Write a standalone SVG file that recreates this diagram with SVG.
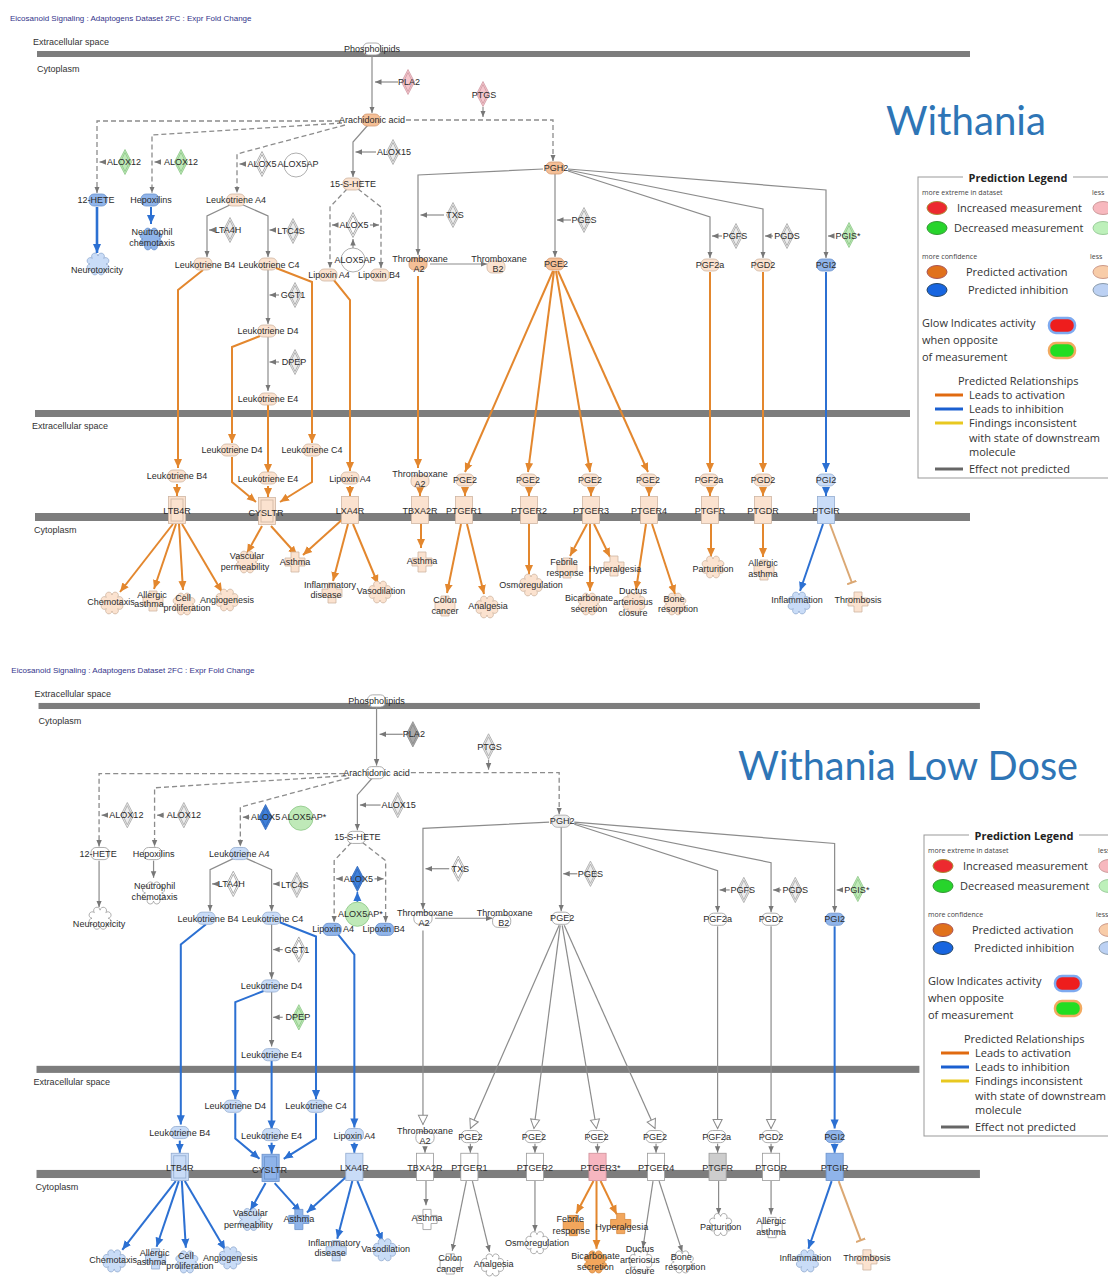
<svg xmlns="http://www.w3.org/2000/svg" width="1108" height="1288" viewBox="0 0 1108 1288">
<style>
text{font-family:"Liberation Sans",Arial,sans-serif}
.hd{font-size:8px;fill:#34348a}
.cmp{font-size:9px;fill:#333}
.mem{fill:#7d7d7d}
.t{font-size:9px;fill:#2b2b2b;text-anchor:middle}
.big{font-family:Lato,"Open Sans",sans-serif;font-size:40px;fill:#2e75b6}
.lg{font-family:"Open Sans","Liberation Sans",sans-serif;font-size:11px;fill:#333}
.lgb{font-family:"Open Sans","Liberation Sans",sans-serif;font-size:11px;font-weight:bold;fill:#222;text-anchor:middle}
.lgs{font-family:"Open Sans","Liberation Sans",sans-serif;font-size:7px;fill:#444}
.w{fill:#fff;stroke:#9a9a9a;stroke-width:.8}
.gy{fill:#ececec;stroke:#a5a5a5;stroke-width:.8}
.gy2{fill:#a9a9a9;stroke:#8a8a8a;stroke-width:.8}
.gr{fill:#cdcdcd;stroke:#999;stroke-width:.8}
.lo{fill:#fbe2cf;stroke:#cfb6a2;stroke-width:.8}
.o{fill:#f5bf96;stroke:#d49c74;stroke-width:.8}
.or{fill:#f2a65c;stroke:#d8893c;stroke-width:.8}
.lb{fill:#c9dcf7;stroke:#93acd0;stroke-width:.8}
.b{fill:#8fb4ea;stroke:#6b92cc;stroke-width:.8}
.db{fill:#3f80da;stroke:#2f66b8;stroke-width:.8}
.pk{fill:#f5c6cd;stroke:#cf9aa3;stroke-width:.8}
.rd{fill:#f6b6c0;stroke:#d0909a;stroke-width:.8}
.g{fill:#bfe9b8;stroke:#8cc786;stroke-width:.8}
.eg{fill:none;stroke:#8c8c8c;stroke-width:1.2;marker-end:url(#mg)}
.ed{fill:none;stroke:#8c8c8c;stroke-width:1.3;stroke-dasharray:5 3;marker-end:url(#mg)}
.eo{fill:none;stroke:#e3872e;stroke-width:2;marker-end:url(#mo)}
.eb{fill:none;stroke:#2c70d2;stroke-width:2;marker-end:url(#mb)}
.eh{fill:none;stroke:#8c8c8c;stroke-width:1.2;marker-end:url(#mh)}
.et{fill:none;stroke:#dba874;stroke-width:2;marker-end:url(#mt)}
</style>
<defs>
<marker id="mg" markerUnits="userSpaceOnUse" markerWidth="8" markerHeight="8" refX="6.5" refY="3.5" orient="auto"><path d="M0,0.8L6.5,3.5L0,6.2Z" fill="#777"/></marker>
<marker id="mo" markerUnits="userSpaceOnUse" markerWidth="10" markerHeight="10" refX="9" refY="5" orient="auto"><path d="M0,1L9,5L0,9Z" fill="#e3872e"/></marker>
<marker id="mb" markerUnits="userSpaceOnUse" markerWidth="10" markerHeight="10" refX="9" refY="5" orient="auto"><path d="M0,1L9,5L0,9Z" fill="#2c70d2"/></marker>
<marker id="mh" markerUnits="userSpaceOnUse" markerWidth="12" markerHeight="12" refX="10" refY="6" orient="auto"><path d="M1,1.5L10,6L1,10.5Z" fill="#fff" stroke="#8c8c8c"/></marker>
<marker id="mt" markerUnits="userSpaceOnUse" markerWidth="10" markerHeight="10" refX="2" refY="5" orient="auto"><path d="M1.5,0V10" stroke="#dba874" stroke-width="2"/></marker>
<rect id="chem" x="-9" y="-6" width="18" height="12" rx="5"/>
<g id="dia"><path d="M0,-12.5L6.5,0L0,12.5L-6.5,0Z"/><path d="M0,-9.5L4.6,0L0,9.5L-4.6,0Z" fill="none"/></g>
<rect id="rec" x="-8.5" y="-13.5" width="17" height="27"/>
<g id="rec2"><rect x="-8.5" y="-13.5" width="17" height="27"/><rect x="-6" y="-11" width="12" height="22" fill="none"/></g>
<circle id="circ" r="12"/>
<path id="gear" d="M8,0A3.2,3.2 0 1 1 5.66,5.66A3.2,3.2 0 1 1 0,8A3.2,3.2 0 1 1 -5.66,5.66A3.2,3.2 0 1 1 -8,0A3.2,3.2 0 1 1 -5.66,-5.66A3.2,3.2 0 1 1 0,-8A3.2,3.2 0 1 1 5.66,-5.66A3.2,3.2 0 1 1 8,0Z"/>
<path id="cross" d="M-4,-10H4V-4H10V4H4V10H-4V4H-10V-4H-4Z"/>
</defs>
<rect width="1108" height="1288" fill="#fff"/>

<!-- ================= upper pathway ================= -->
<g id="top-panel">
<text class="hd" x="10" y="21">Eicosanoid Signaling : Adaptogens Dataset 2FC : Expr Fold Change</text>
<text class="cmp" x="33" y="45">Extracellular space</text>
<rect class="mem" x="37" y="51" width="933" height="6"/>
<text class="cmp" x="37" y="72">Cytoplasm</text>
<rect class="mem" x="35" y="410" width="875" height="7"/>
<text class="cmp" x="32" y="429">Extracellular space</text>
<rect class="mem" x="35" y="513" width="935" height="8"/>
<text class="cmp" x="34" y="533">Cytoplasm</text>

<g id="a-edges">
<path class="eg" d="M372,55V113"/>
<path class="eg" d="M398,82H375"/>
<path class="eg" d="M483,107V117"/>
<path class="eg" d="M105,162H99.5"/>
<path class="eg" d="M161,162H154.5"/>
<path class="eg" d="M246,164H239.5"/>
<path class="eg" d="M368,125L353,142V177"/>
<path class="eg" d="M376,152H355.5"/>
<path class="eg" d="M338,225H332"/>
<path class="eg" d="M370,225H379"/>
<path class="eg" d="M353,248V239"/>
<path class="eg" d="M232,204L207,216V257"/>
<path class="eg" d="M241,204L268,216V257"/>
<path class="eg" d="M213,230H209"/>
<path class="eg" d="M274,230H269.5"/>
<path class="eg" d="M268,270V324"/>
<path class="eg" d="M268,337V391"/>
<path class="eg" d="M279,295H269.5"/>
<path class="eg" d="M279,362H269.5"/>
<path class="eg" d="M543,169L418,175V255"/>
<path class="eg" d="M444,215H420.5"/>
<path class="eg" d="M430,264H487"/>
<path class="eg" d="M555,173V257"/>
<path class="eg" d="M571,220H557"/>
<path class="eg" d="M568,171L710,217V258"/>
<path class="eg" d="M568,170L763,209V258"/>
<path class="eg" d="M568,169L826,190V258"/>
<path class="eg" d="M722,236H712"/>
<path class="eg" d="M773,236H765"/>
<path class="eg" d="M834,236H828"/>
<path class="ed" d="M406,120H553V161"/>
<path class="ed" d="M340,121H97V193"/>
<path class="ed" d="M342,123L152,135V193"/>
<path class="ed" d="M345,125L237,154V193"/>
<path class="ed" d="M347,189L330,207V268"/>
<path class="ed" d="M358,189L381,207V268"/>
<path class="eb" style="stroke-width:2.6" d="M97,207V253"/>
<path class="eb" d="M151,207V224"/>
<path class="eo" d="M203,270L178,290V468"/>
<path class="eo" d="M276,268L312,282V443"/>
<path class="eo" d="M260,336L232,347V443"/>
<path class="eo" d="M268,405V473"/>
<path class="eo" d="M333,279L350,300V471"/>
<path class="eo" d="M418,276V468"/>
<path class="eo" d="M553,271L465,472"/>
<path class="eo" d="M554,271L528,472"/>
<path class="eo" d="M556,271L590,472"/>
<path class="eo" d="M558,271L648,472"/>
<path class="eo" d="M710,272V472"/>
<path class="eo" d="M763,272V472"/>
<path class="eb" d="M826,272V472"/>
<path class="eo" d="M177,484V496"/>
<path class="eo" d="M232,457V482L256,502"/>
<path class="eo" d="M268,486V497"/>
<path class="eo" d="M312,457V482L280,502"/>
<path class="eo" d="M350,486V496"/>
<path class="eo" d="M420,490V496"/>
<path class="eo" d="M465,487V496"/>
<path class="eo" d="M529,487V496"/>
<path class="eo" d="M591,487V496"/>
<path class="eo" d="M649,487V496"/>
<path class="eo" d="M710,487V496"/>
<path class="eo" d="M763,487V496"/>
<path class="eb" d="M826,487V496"/>
<path class="eo" d="M173,524L120,592"/>
<path class="eo" d="M176,524L154,589"/>
<path class="eo" d="M179,524L183,590"/>
<path class="eo" d="M182,524L222,592"/>
<path class="eo" d="M262,526L247,553"/>
<path class="eo" d="M271,526L297,555"/>
<path class="eo" d="M344,518L303,555"/>
<path class="eo" d="M348,524L333,581"/>
<path class="eo" d="M353,524L378,584"/>
<path class="eo" d="M421,524V548"/>
<path class="eo" d="M461,524L447,593"/>
<path class="eo" d="M467,524L484,594"/>
<path class="eo" d="M529,524V574"/>
<path class="eo" d="M587,524L570,556"/>
<path class="eo" d="M590,524V591"/>
<path class="eo" d="M594,524L610,557"/>
<path class="eo" d="M646,524L636,590"/>
<path class="eo" d="M652,524L675,594"/>
<path class="eo" d="M711,524V557"/>
<path class="eo" d="M763,524V557"/>
<path class="eb" d="M823,524L800,591"/>
<path class="et" d="M830,524L852,583"/>
</g>

<g id="a-phospholipids"><use href="#chem" x="372" y="49" class="w"/><text class="t" x="372" y="52">Phospholipids</text></g>
<g id="a-pla2"><use href="#dia" x="408" y="82" class="pk"/><text class="t" x="409" y="85">PLA2</text></g>
<g id="a-ptgs"><use href="#dia" x="483" y="94" class="pk"/><text class="t" x="484" y="98">PTGS</text></g>
<g id="a-arachidonic"><use href="#chem" x="371" y="120" class="o"/><text class="t" x="372" y="123">Arachidonic acid</text></g>
<g id="a-alox12-1"><use href="#dia" x="125" y="162" class="g"/><text class="t" x="124" y="165">ALOX12</text></g>
<g id="a-alox12-2"><use href="#dia" x="181" y="162" class="g"/><text class="t" x="181" y="165">ALOX12</text></g>
<g id="a-alox5-1"><use href="#dia" x="262" y="164" class="w"/><text class="t" x="262" y="167">ALOX5</text></g>
<g id="a-alox5ap-1"><use href="#circ" x="296" y="165" class="w"/><text class="t" x="298" y="167">ALOX5AP</text></g>
<g id="a-alox15"><use href="#dia" x="393" y="152" class="gy"/><text class="t" x="394" y="155">ALOX15</text></g>
<g id="a-12hete"><use href="#chem" x="98" y="200" class="b"/><text class="t" x="96" y="203">12-HETE</text></g>
<g id="a-hepoxilins"><use href="#chem" x="150" y="200" class="b"/><text class="t" x="151" y="203">Hepoxilins</text></g>
<g id="a-neurotoxicity"><use href="#gear" x="98" y="264" class="lb"/><text class="t" x="97" y="273">Neurotoxicity</text></g>
<g id="a-neutrophil"><use href="#gear" x="151" y="239" class="b"/><text class="t" x="152" y="235">Neutrophil<tspan x="152" dy="11">chemotaxis</tspan></text></g>
<g id="a-lta4"><use href="#chem" x="236" y="200" class="lo"/><text class="t" x="236" y="203">Leukotriene A4</text></g>
<g id="a-lta4h"><use href="#dia" x="230" y="230" class="gy"/><text class="t" x="228" y="233">LTA4H</text></g>
<g id="a-ltc4s"><use href="#dia" x="293" y="231" class="gy"/><text class="t" x="291" y="234">LTC4S</text></g>
<g id="a-ltb4"><use href="#chem" x="203" y="264" class="lo"/><text class="t" x="205" y="268">Leukotriene B4</text></g>
<g id="a-ltc4"><use href="#chem" x="268" y="264" class="lo"/><text class="t" x="269" y="268">Leukotriene C4</text></g>
<g id="a-ggt1"><use href="#dia" x="295" y="295" class="gy"/><text class="t" x="293" y="298">GGT1</text></g>
<g id="a-ltd4"><use href="#chem" x="267" y="331" class="lo"/><text class="t" x="268" y="334">Leukotriene D4</text></g>
<g id="a-dpep"><use href="#dia" x="295" y="362" class="gy"/><text class="t" x="294" y="365">DPEP</text></g>
<g id="a-lte4"><use href="#chem" x="268" y="399" class="lo"/><text class="t" x="268" y="402">Leukotriene E4</text></g>
<g id="a-15shete"><use href="#chem" x="352" y="184" class="lo"/><text class="t" x="353" y="187">15-S-HETE</text></g>
<g id="a-alox5-2"><use href="#dia" x="353" y="225" class="w"/><text class="t" x="354" y="228">ALOX5</text></g>
<g id="a-alox5ap-2"><use href="#circ" x="353" y="260" class="w"/><text class="t" x="355" y="263">ALOX5AP</text></g>
<g id="a-lxa4"><use href="#chem" x="328" y="275" class="lo"/><text class="t" x="329" y="278">Lipoxin A4</text></g>
<g id="a-lxb4"><use href="#chem" x="380" y="275" class="lo"/><text class="t" x="379" y="278">Lipoxin B4</text></g>
<g id="a-pgh2"><use href="#chem" x="555" y="168" class="o"/><text class="t" x="556" y="171">PGH2</text></g>
<g id="a-txa2"><use href="#chem" x="418" y="264" class="o"/><text class="t" x="420" y="262">Thromboxane<tspan x="419" dy="10">A2</tspan></text></g>
<g id="a-txb2"><use href="#chem" x="496" y="267" class="lo"/><text class="t" x="499" y="262">Thromboxane<tspan x="498" dy="10">B2</tspan></text></g>
<g id="a-txs"><use href="#dia" x="453" y="215" class="gy"/><text class="t" x="455" y="218">TXS</text></g>
<g id="a-pges"><use href="#dia" x="584" y="220" class="gy"/><text class="t" x="584" y="223">PGES</text></g>
<g id="a-pge2"><use href="#chem" x="555" y="264" class="o"/><text class="t" x="556" y="267">PGE2</text></g>
<g id="a-pgfs"><use href="#dia" x="736" y="236" class="gy"/><text class="t" x="735" y="239">PGFS</text></g>
<g id="a-pgds"><use href="#dia" x="787" y="236" class="gy"/><text class="t" x="787" y="239">PGDS</text></g>
<g id="a-pgis"><use href="#dia" x="849" y="235" class="g"/><text class="t" x="848" y="239">PGIS*</text></g>
<g id="a-pgf2a"><use href="#chem" x="710" y="265" class="lo"/><text class="t" x="710" y="268">PGF2a</text></g>
<g id="a-pgd2"><use href="#chem" x="763" y="265" class="lo"/><text class="t" x="763" y="268">PGD2</text></g>
<g id="a-pgi2"><use href="#chem" x="826" y="265" class="b"/><text class="t" x="826" y="268">PGI2</text></g>

<g id="a-ltb4-ex"><use href="#chem" x="177" y="476" class="lo"/><text class="t" x="177" y="479">Leukotriene B4</text></g>
<g id="a-ltd4-ex"><use href="#chem" x="230" y="450" class="lo"/><text class="t" x="232" y="453">Leukotriene D4</text></g>
<g id="a-ltc4-ex"><use href="#chem" x="312" y="450" class="lo"/><text class="t" x="312" y="453">Leukotriene C4</text></g>
<g id="a-lte4-ex"><use href="#chem" x="268" y="478" class="lo"/><text class="t" x="268" y="482">Leukotriene E4</text></g>
<g id="a-lxa4-ex"><use href="#chem" x="350" y="478" class="lo"/><text class="t" x="350" y="482">Lipoxin A4</text></g>
<g id="a-txa2-ex"><use href="#chem" x="420" y="481" class="lo"/><text class="t" x="420" y="477">Thromboxane<tspan x="420" dy="10">A2</tspan></text></g>
<g id="a-pge2-ex1"><use href="#chem" x="465" y="480" class="lo"/><text class="t" x="465" y="483">PGE2</text></g>
<g id="a-pge2-ex2"><use href="#chem" x="528" y="480" class="lo"/><text class="t" x="528" y="483">PGE2</text></g>
<g id="a-pge2-ex3"><use href="#chem" x="590" y="480" class="lo"/><text class="t" x="590" y="483">PGE2</text></g>
<g id="a-pge2-ex4"><use href="#chem" x="648" y="480" class="lo"/><text class="t" x="648" y="483">PGE2</text></g>
<g id="a-pgf2a-ex"><use href="#chem" x="709" y="480" class="lo"/><text class="t" x="709" y="483">PGF2a</text></g>
<g id="a-pgd2-ex"><use href="#chem" x="763" y="480" class="lo"/><text class="t" x="763" y="483">PGD2</text></g>
<g id="a-pgi2-ex"><use href="#chem" x="826" y="480" class="lb"/><text class="t" x="826" y="483">PGI2</text></g>

<g id="a-ltb4r"><use href="#rec2" x="177" y="510" class="lo"/><text class="t" x="177" y="514">LTB4R</text></g>
<g id="a-cysltr"><use href="#rec2" x="267" y="511" class="lo"/><text class="t" x="266" y="516">CYSLTR</text></g>
<g id="a-lxa4r"><use href="#rec" x="350" y="510" class="lo"/><text class="t" x="350" y="514">LXA4R</text></g>
<g id="a-tbxa2r"><use href="#rec" x="420" y="510" class="lo"/><text class="t" x="420" y="514">TBXA2R</text></g>
<g id="a-ptger1"><use href="#rec" x="464" y="510" class="lo"/><text class="t" x="464" y="514">PTGER1</text></g>
<g id="a-ptger2"><use href="#rec" x="529" y="510" class="lo"/><text class="t" x="529" y="514">PTGER2</text></g>
<g id="a-ptger3"><use href="#rec" x="591" y="510" class="lo"/><text class="t" x="591" y="514">PTGER3</text></g>
<g id="a-ptger4"><use href="#rec" x="649" y="510" class="lo"/><text class="t" x="649" y="514">PTGER4</text></g>
<g id="a-ptgfr"><use href="#rec" x="710" y="510" class="lo"/><text class="t" x="710" y="514">PTGFR</text></g>
<g id="a-ptgdr"><use href="#rec" x="763" y="510" class="lo"/><text class="t" x="763" y="514">PTGDR</text></g>
<g id="a-ptgir"><use href="#rec" x="826" y="510" class="lb"/><text class="t" x="826" y="514">PTGIR</text></g>

<g id="a-chemotaxis"><use href="#gear" x="112" y="603" class="lo"/><text class="t" x="111" y="605">Chemotaxis</text></g>
<g id="a-allergic-1"><use href="#cross" x="153" y="601" class="lo"/><text class="t" x="152" y="598">Allergic<tspan x="149" dy="9">asthma</tspan></text></g>
<g id="a-cellprolif"><use href="#gear" x="184" y="604" class="lo"/><text class="t" x="183" y="601">Cell<tspan x="187" dy="10">proliferation</tspan></text></g>
<g id="a-angiogenesis"><use href="#gear" x="227" y="600" class="lo"/><text class="t" x="227" y="603">Angiogenesis</text></g>
<g id="a-vascperm"><use href="#gear" x="247" y="562" class="lo"/><text class="t" x="247" y="559">Vascular<tspan x="245" dy="11">permeability</tspan></text></g>
<g id="a-asthma-1"><use href="#cross" x="295" y="562" class="lo"/><text class="t" x="295" y="565">Asthma</text></g>
<g id="a-inflamdis"><use href="#cross" x="332" y="593" class="lo"/><text class="t" x="330" y="588">Inflammatory<tspan x="326" dy="10">disease</tspan></text></g>
<g id="a-vasodilation"><use href="#gear" x="380" y="592" class="lo"/><text class="t" x="381" y="594">Vasodilation</text></g>
<g id="a-asthma-2"><use href="#cross" x="422" y="562" class="lo"/><text class="t" x="422" y="564">Asthma</text></g>
<g id="a-colon"><use href="#cross" x="445" y="606" class="lo"/><text class="t" x="445" y="603">Colon<tspan x="445" dy="11">cancer</tspan></text></g>
<g id="a-analgesia"><use href="#gear" x="487" y="607" class="lo"/><text class="t" x="488" y="609">Analgesia</text></g>
<g id="a-osmoreg"><use href="#gear" x="531" y="585" class="lo"/><text class="t" x="531" y="588">Osmoregulation</text></g>
<g id="a-febrile"><use href="#cross" x="567" y="568" class="lo"/><text class="t" x="564" y="565">Febrile<tspan x="565" dy="11">response</tspan></text></g>
<g id="a-bicarb"><use href="#gear" x="589" y="604" class="lo"/><text class="t" x="589" y="601">Bicarbonate<tspan x="589" dy="11">secretion</tspan></text></g>
<g id="a-hyperalgesia"><use href="#cross" x="614" y="566" class="lo"/><text class="t" x="615" y="572">Hyperalgesia</text></g>
<g id="a-ductus"><use href="#gear" x="634" y="603" class="lo"/><text class="t" x="633" y="594">Ductus<tspan x="633" dy="11">arteriosus</tspan><tspan x="633" dy="11">closure</tspan></text></g>
<g id="a-bone"><use href="#gear" x="675" y="604" class="lo"/><text class="t" x="674" y="602">Bone<tspan x="678" dy="10">resorption</tspan></text></g>
<g id="a-parturition"><use href="#gear" x="713" y="567" class="lo"/><text class="t" x="713" y="572">Parturition</text></g>
<g id="a-allergic-2"><use href="#cross" x="764" y="570" class="lo"/><text class="t" x="763" y="566">Allergic<tspan x="763" dy="11">asthma</tspan></text></g>
<g id="a-inflammation"><use href="#gear" x="799" y="603" class="lb"/><text class="t" x="797" y="603">Inflammation</text></g>
<g id="a-thrombosis"><use href="#cross" x="858" y="602" class="lo"/><text class="t" x="858" y="603">Thrombosis</text></g>
</g>

<!-- ================= lower pathway (low dose) ================= -->
<g id="low-panel" transform="translate(1.2 651.4) scale(1.009 1.0108)">
<text class="hd" x="10" y="21">Eicosanoid Signaling : Adaptogens Dataset 2FC : Expr Fold Change</text>
<text class="cmp" x="33" y="45">Extracellular space</text>
<rect class="mem" x="37" y="51" width="933" height="6"/>
<text class="cmp" x="37" y="72">Cytoplasm</text>
<rect class="mem" x="35" y="410" width="875" height="7"/>
<text class="cmp" x="32" y="429">Extracellular space</text>
<rect class="mem" x="35" y="513" width="935" height="8"/>
<text class="cmp" x="34" y="533">Cytoplasm</text>

<g id="b-edges">
<path class="eg" d="M372,55V113"/>
<path class="eg" d="M398,82H375"/>
<path class="eg" d="M483,107V117"/>
<path class="eg" d="M105,162H99.5"/>
<path class="eg" d="M161,162H154.5"/>
<path class="eg" d="M246,164H239.5"/>
<path class="eg" d="M368,125L353,142V177"/>
<path class="eg" d="M376,152H355.5"/>
<path class="eg" d="M338,225H332"/>
<path class="eg" d="M370,225H379"/>
<path class="eb" style="stroke-width:1.6" d="M353,248V238"/>
<path class="eg" d="M232,204L207,216V257"/>
<path class="eg" d="M241,204L268,216V257"/>
<path class="eg" d="M213,230H209"/>
<path class="eg" d="M274,230H269.5"/>
<path class="eg" d="M268,270V324"/>
<path class="eg" d="M268,337V391"/>
<path class="eg" d="M279,295H269.5"/>
<path class="eg" d="M279,362H269.5"/>
<path class="eg" d="M543,169L418,175V255"/>
<path class="eg" d="M444,215H420.5"/>
<path class="eg" d="M430,264H487"/>
<path class="eg" d="M555,173V257"/>
<path class="eg" d="M571,220H557"/>
<path class="eg" d="M568,171L710,217V258"/>
<path class="eg" d="M568,170L763,209V258"/>
<path class="eg" d="M568,169L826,190V258"/>
<path class="eg" d="M722,236H712"/>
<path class="eg" d="M773,236H765"/>
<path class="eg" d="M834,236H828"/>
<path class="ed" d="M406,120H553V161"/>
<path class="ed" d="M340,121H97V193"/>
<path class="ed" d="M342,123L152,135V193"/>
<path class="ed" d="M345,125L237,154V193"/>
<path class="ed" d="M347,189L330,207V268"/>
<path class="ed" d="M358,189L381,207V268"/>
<path class="eg" d="M97,207V253"/>
<path class="eg" d="M151,207V224"/>
<path class="eb" d="M203,270L178,290V468"/>
<path class="eb" d="M276,268L312,282V443"/>
<path class="eb" d="M260,336L232,347V443"/>
<path class="eb" d="M268,405V473"/>
<path class="eb" d="M333,279L350,300V471"/>
<path class="eh" d="M418,276V468"/>
<path class="eh" d="M553,271L465,472"/>
<path class="eh" d="M554,271L528,472"/>
<path class="eh" d="M556,271L590,472"/>
<path class="eh" d="M558,271L648,472"/>
<path class="eh" d="M710,272V472"/>
<path class="eh" d="M763,272V472"/>
<path class="eb" d="M826,272V472"/>
<path class="eb" d="M177,484V496"/>
<path class="eb" d="M232,457V482L256,502"/>
<path class="eb" d="M268,486V497"/>
<path class="eb" d="M312,457V482L280,502"/>
<path class="eb" d="M350,486V496"/>
<path class="eg" d="M420,490V496"/>
<path class="eg" d="M465,487V496"/>
<path class="eg" d="M529,487V496"/>
<path class="eg" d="M591,487V496"/>
<path class="eg" d="M649,487V496"/>
<path class="eg" d="M710,487V496"/>
<path class="eg" d="M763,487V496"/>
<path class="eb" d="M826,487V496"/>
<path class="eb" d="M173,524L120,592"/>
<path class="eb" d="M176,524L154,589"/>
<path class="eb" d="M179,524L183,590"/>
<path class="eb" d="M182,524L222,592"/>
<path class="eb" d="M262,526L247,553"/>
<path class="eb" d="M271,526L297,555"/>
<path class="eb" d="M344,518L303,555"/>
<path class="eb" d="M348,524L333,581"/>
<path class="eb" d="M353,524L378,584"/>
<path class="eg" d="M421,524V548"/>
<path class="eg" d="M461,524L447,593"/>
<path class="eg" d="M467,524L484,594"/>
<path class="eg" d="M529,524V574"/>
<path class="eo" d="M587,524L570,556"/>
<path class="eo" d="M590,524V591"/>
<path class="eo" d="M594,524L610,557"/>
<path class="eg" d="M646,524L636,590"/>
<path class="eg" d="M652,524L675,594"/>
<path class="eg" d="M711,524V557"/>
<path class="eg" d="M763,524V557"/>
<path class="eb" d="M823,524L800,591"/>
<path class="et" d="M830,524L852,583"/>
</g>

<g id="b-phospholipids"><use href="#chem" x="372" y="49" class="w"/><text class="t" x="372" y="52">Phospholipids</text></g>
<g id="b-pla2"><use href="#dia" x="408" y="82" class="gy2"/><text class="t" x="409" y="85">PLA2</text></g>
<g id="b-ptgs"><use href="#dia" x="483" y="94" class="gy"/><text class="t" x="484" y="98">PTGS</text></g>
<g id="b-arachidonic"><use href="#chem" x="371" y="120" class="w"/><text class="t" x="372" y="123">Arachidonic acid</text></g>
<g id="b-alox12-1"><use href="#dia" x="125" y="162" class="gy"/><text class="t" x="124" y="165">ALOX12</text></g>
<g id="b-alox12-2"><use href="#dia" x="181" y="162" class="gy"/><text class="t" x="181" y="165">ALOX12</text></g>
<g id="b-alox5-1"><use href="#dia" x="262" y="164" class="db"/><text class="t" x="262" y="167">ALOX5</text></g>
<g id="b-alox5ap-1"><use href="#circ" x="297" y="165" class="g"/><text class="t" x="300" y="167">ALOX5AP*</text></g>
<g id="b-alox15"><use href="#dia" x="393" y="152" class="gy"/><text class="t" x="394" y="155">ALOX15</text></g>
<g id="b-12hete"><use href="#chem" x="98" y="200" class="w"/><text class="t" x="96" y="203">12-HETE</text></g>
<g id="b-hepoxilins"><use href="#chem" x="150" y="200" class="w"/><text class="t" x="151" y="203">Hepoxilins</text></g>
<g id="b-neurotoxicity"><use href="#gear" x="98" y="264" class="w"/><text class="t" x="97" y="273">Neurotoxicity</text></g>
<g id="b-neutrophil"><use href="#gear" x="151" y="239" class="w"/><text class="t" x="152" y="235">Neutrophil<tspan x="152" dy="11">chemotaxis</tspan></text></g>
<g id="b-lta4"><use href="#chem" x="236" y="200" class="lb"/><text class="t" x="236" y="203">Leukotriene A4</text></g>
<g id="b-lta4h"><use href="#dia" x="230" y="230" class="w"/><text class="t" x="228" y="233">LTA4H</text></g>
<g id="b-ltc4s"><use href="#dia" x="293" y="231" class="gy"/><text class="t" x="291" y="234">LTC4S</text></g>
<g id="b-ltb4"><use href="#chem" x="203" y="264" class="lb"/><text class="t" x="205" y="268">Leukotriene B4</text></g>
<g id="b-ltc4"><use href="#chem" x="268" y="264" class="lb"/><text class="t" x="269" y="268">Leukotriene C4</text></g>
<g id="b-ggt1"><use href="#dia" x="295" y="295" class="w"/><text class="t" x="293" y="298">GGT1</text></g>
<g id="b-ltd4"><use href="#chem" x="267" y="331" class="lb"/><text class="t" x="268" y="334">Leukotriene D4</text></g>
<g id="b-dpep"><use href="#dia" x="295" y="362" class="g"/><text class="t" x="294" y="365">DPEP</text></g>
<g id="b-lte4"><use href="#chem" x="268" y="399" class="lb"/><text class="t" x="268" y="402">Leukotriene E4</text></g>
<g id="b-15shete"><use href="#chem" x="352" y="184" class="w"/><text class="t" x="353" y="187">15-S-HETE</text></g>
<g id="b-alox5-2"><use href="#dia" x="353" y="225" class="db"/><text class="t" x="354" y="228">ALOX5</text></g>
<g id="b-alox5ap-2"><use href="#circ" x="353" y="260" class="g"/><text class="t" x="356" y="263">ALOX5AP*</text></g>
<g id="b-lxa4"><use href="#chem" x="328" y="275" class="b"/><text class="t" x="329" y="278">Lipoxin A4</text></g>
<g id="b-lxb4"><use href="#chem" x="380" y="275" class="b"/><text class="t" x="379" y="278">Lipoxin B4</text></g>
<g id="b-pgh2"><use href="#chem" x="555" y="168" class="gy"/><text class="t" x="556" y="171">PGH2</text></g>
<g id="b-txa2"><use href="#chem" x="418" y="264" class="w"/><text class="t" x="420" y="262">Thromboxane<tspan x="419" dy="10">A2</tspan></text></g>
<g id="b-txb2"><use href="#chem" x="496" y="267" class="w"/><text class="t" x="499" y="262">Thromboxane<tspan x="498" dy="10">B2</tspan></text></g>
<g id="b-txs"><use href="#dia" x="453" y="215" class="w"/><text class="t" x="455" y="218">TXS</text></g>
<g id="b-pges"><use href="#dia" x="584" y="220" class="gy"/><text class="t" x="584" y="223">PGES</text></g>
<g id="b-pge2"><use href="#chem" x="555" y="264" class="w"/><text class="t" x="556" y="267">PGE2</text></g>
<g id="b-pgfs"><use href="#dia" x="736" y="236" class="gy"/><text class="t" x="735" y="239">PGFS</text></g>
<g id="b-pgds"><use href="#dia" x="787" y="236" class="gy"/><text class="t" x="787" y="239">PGDS</text></g>
<g id="b-pgis"><use href="#dia" x="849" y="235" class="g"/><text class="t" x="848" y="239">PGIS*</text></g>
<g id="b-pgf2a"><use href="#chem" x="710" y="265" class="w"/><text class="t" x="710" y="268">PGF2a</text></g>
<g id="b-pgd2"><use href="#chem" x="763" y="265" class="w"/><text class="t" x="763" y="268">PGD2</text></g>
<g id="b-pgi2"><use href="#chem" x="826" y="265" class="b"/><text class="t" x="826" y="268">PGI2</text></g>

<g id="b-ltb4-ex"><use href="#chem" x="177" y="476" class="lb"/><text class="t" x="177" y="479">Leukotriene B4</text></g>
<g id="b-ltd4-ex"><use href="#chem" x="230" y="450" class="lb"/><text class="t" x="232" y="453">Leukotriene D4</text></g>
<g id="b-ltc4-ex"><use href="#chem" x="312" y="450" class="lb"/><text class="t" x="312" y="453">Leukotriene C4</text></g>
<g id="b-lte4-ex"><use href="#chem" x="268" y="478" class="lb"/><text class="t" x="268" y="482">Leukotriene E4</text></g>
<g id="b-lxa4-ex"><use href="#chem" x="350" y="478" class="lb"/><text class="t" x="350" y="482">Lipoxin A4</text></g>
<g id="b-txa2-ex"><use href="#chem" x="420" y="481" class="w"/><text class="t" x="420" y="477">Thromboxane<tspan x="420" dy="10">A2</tspan></text></g>
<g id="b-pge2-ex1"><use href="#chem" x="465" y="480" class="w"/><text class="t" x="465" y="483">PGE2</text></g>
<g id="b-pge2-ex2"><use href="#chem" x="528" y="480" class="w"/><text class="t" x="528" y="483">PGE2</text></g>
<g id="b-pge2-ex3"><use href="#chem" x="590" y="480" class="w"/><text class="t" x="590" y="483">PGE2</text></g>
<g id="b-pge2-ex4"><use href="#chem" x="648" y="480" class="w"/><text class="t" x="648" y="483">PGE2</text></g>
<g id="b-pgf2a-ex"><use href="#chem" x="709" y="480" class="w"/><text class="t" x="709" y="483">PGF2a</text></g>
<g id="b-pgd2-ex"><use href="#chem" x="763" y="480" class="w"/><text class="t" x="763" y="483">PGD2</text></g>
<g id="b-pgi2-ex"><use href="#chem" x="826" y="480" class="b"/><text class="t" x="826" y="483">PGI2</text></g>

<g id="b-ltb4r"><use href="#rec2" x="177" y="510" class="lb"/><text class="t" x="177" y="514">LTB4R</text></g>
<g id="b-cysltr"><use href="#rec2" x="267" y="511" class="b"/><text class="t" x="266" y="516">CYSLTR</text></g>
<g id="b-lxa4r"><use href="#rec" x="350" y="510" class="lb"/><text class="t" x="350" y="514">LXA4R</text></g>
<g id="b-tbxa2r"><use href="#rec" x="420" y="510" class="w"/><text class="t" x="420" y="514">TBXA2R</text></g>
<g id="b-ptger1"><use href="#rec" x="464" y="510" class="w"/><text class="t" x="464" y="514">PTGER1</text></g>
<g id="b-ptger2"><use href="#rec" x="529" y="510" class="w"/><text class="t" x="529" y="514">PTGER2</text></g>
<g id="b-ptger3"><use href="#rec" x="591" y="510" class="rd"/><text class="t" x="594" y="514">PTGER3*</text></g>
<g id="b-ptger4"><use href="#rec" x="649" y="510" class="w"/><text class="t" x="649" y="514">PTGER4</text></g>
<g id="b-ptgfr"><use href="#rec" x="710" y="510" class="gr"/><text class="t" x="710" y="514">PTGFR</text></g>
<g id="b-ptgdr"><use href="#rec" x="763" y="510" class="w"/><text class="t" x="763" y="514">PTGDR</text></g>
<g id="b-ptgir"><use href="#rec" x="826" y="510" class="b"/><text class="t" x="826" y="514">PTGIR</text></g>

<g id="b-chemotaxis"><use href="#gear" x="112" y="603" class="lb"/><text class="t" x="111" y="605">Chemotaxis</text></g>
<g id="b-allergic-1"><use href="#cross" x="153" y="601" class="lb"/><text class="t" x="152" y="598">Allergic<tspan x="149" dy="9">asthma</tspan></text></g>
<g id="b-cellprolif"><use href="#gear" x="184" y="604" class="lb"/><text class="t" x="183" y="601">Cell<tspan x="187" dy="10">proliferation</tspan></text></g>
<g id="b-angiogenesis"><use href="#gear" x="227" y="600" class="lb"/><text class="t" x="227" y="603">Angiogenesis</text></g>
<g id="b-vascperm"><use href="#gear" x="247" y="562" class="lb"/><text class="t" x="247" y="559">Vascular<tspan x="245" dy="11">permeability</tspan></text></g>
<g id="b-asthma-1"><use href="#cross" x="295" y="562" class="b"/><text class="t" x="295" y="565">Asthma</text></g>
<g id="b-inflamdis"><use href="#cross" x="332" y="593" class="lb"/><text class="t" x="330" y="588">Inflammatory<tspan x="326" dy="10">disease</tspan></text></g>
<g id="b-vasodilation"><use href="#gear" x="380" y="592" class="lb"/><text class="t" x="381" y="594">Vasodilation</text></g>
<g id="b-asthma-2"><use href="#cross" x="422" y="562" class="w"/><text class="t" x="422" y="564">Asthma</text></g>
<g id="b-colon"><use href="#cross" x="445" y="606" class="w"/><text class="t" x="445" y="603">Colon<tspan x="445" dy="11">cancer</tspan></text></g>
<g id="b-analgesia"><use href="#gear" x="487" y="607" class="w"/><text class="t" x="488" y="609">Analgesia</text></g>
<g id="b-osmoreg"><use href="#gear" x="531" y="585" class="w"/><text class="t" x="531" y="588">Osmoregulation</text></g>
<g id="b-febrile"><use href="#cross" x="567" y="568" class="or"/><text class="t" x="564" y="565">Febrile<tspan x="565" dy="11">response</tspan></text></g>
<g id="b-bicarb"><use href="#gear" x="589" y="604" class="or"/><text class="t" x="589" y="601">Bicarbonate<tspan x="589" dy="11">secretion</tspan></text></g>
<g id="b-hyperalgesia"><use href="#cross" x="614" y="566" class="or"/><text class="t" x="615" y="572">Hyperalgesia</text></g>
<g id="b-ductus"><use href="#gear" x="634" y="603" class="w"/><text class="t" x="633" y="594">Ductus<tspan x="633" dy="11">arteriosus</tspan><tspan x="633" dy="11">closure</tspan></text></g>
<g id="b-bone"><use href="#gear" x="675" y="604" class="w"/><text class="t" x="674" y="602">Bone<tspan x="678" dy="10">resorption</tspan></text></g>
<g id="b-parturition"><use href="#gear" x="713" y="567" class="w"/><text class="t" x="713" y="572">Parturition</text></g>
<g id="b-allergic-2"><use href="#cross" x="764" y="570" class="w"/><text class="t" x="763" y="566">Allergic<tspan x="763" dy="11">asthma</tspan></text></g>
<g id="b-inflammation"><use href="#gear" x="799" y="603" class="lb"/><text class="t" x="797" y="603">Inflammation</text></g>
<g id="b-thrombosis"><use href="#cross" x="858" y="602" class="lo"/><text class="t" x="858" y="603">Thrombosis</text></g>
</g>

<!-- titles -->
<text class="big" x="886" y="135" textLength="160" lengthAdjust="spacingAndGlyphs">Withania</text>
<text class="big" x="738" y="780" textLength="340" lengthAdjust="spacingAndGlyphs">Withania Low Dose</text>

<!-- legends -->
<g id="legend-top">
<rect x="918" y="177" width="200" height="301" fill="#fff" stroke="#999"/>
<rect x="963" y="170" width="110" height="14" fill="#fff"/>
<text class="lgb" x="1018" y="182">Prediction Legend</text>
<text class="lgs" x="922" y="195">more extreme in dataset</text>
<text class="lgs" x="1092" y="195">less</text>
<ellipse cx="937" cy="208" rx="10" ry="6.5" fill="#ec2a2f" stroke="#a83"/>
<text class="lg" x="957" y="212">Increased measurement</text>
<ellipse cx="1103" cy="208" rx="10" ry="6.5" fill="#f7b8be" stroke="#c99"/>
<ellipse cx="937" cy="228" rx="10" ry="6.5" fill="#27d42c" stroke="#393"/>
<text class="lg" x="954" y="232">Decreased measurement</text>
<ellipse cx="1103" cy="228" rx="10" ry="6.5" fill="#bdf0ba" stroke="#9c9"/>
<text class="lgs" x="922" y="259">more confidence</text>
<text class="lgs" x="1090" y="259">less</text>
<ellipse cx="937" cy="272" rx="10" ry="6.5" fill="#e0711c" stroke="#a55"/>
<text class="lg" x="966" y="276">Predicted activation</text>
<ellipse cx="1103" cy="272" rx="10" ry="6.5" fill="#f8cca8" stroke="#c98"/>
<ellipse cx="937" cy="290" rx="10" ry="6.5" fill="#1765e0" stroke="#246"/>
<text class="lg" x="968" y="294">Predicted inhibition</text>
<ellipse cx="1103" cy="290" rx="10" ry="6.5" fill="#bcd1f3" stroke="#89a"/>
<text class="lg" x="922" y="327">Glow Indicates activity</text>
<text class="lg" x="922" y="344">when opposite</text>
<text class="lg" x="922" y="361">of measurement</text>
<rect x="1049" y="318" width="26" height="15" rx="7" fill="#ee1d1d" stroke="#7eaaf0" stroke-width="2.5"/>
<rect x="1049" y="343" width="26" height="15" rx="7" fill="#22dd22" stroke="#f2aa60" stroke-width="2.5"/>
<text class="lg" x="958" y="385">Predicted Relationships</text>
<line x1="935" y1="395" x2="963" y2="395" stroke="#e06a10" stroke-width="3"/>
<text class="lg" x="969" y="399">Leads to activation</text>
<line x1="935" y1="409" x2="963" y2="409" stroke="#1a5fd0" stroke-width="3"/>
<text class="lg" x="969" y="413">Leads to inhibition</text>
<line x1="935" y1="423" x2="963" y2="423" stroke="#e8c820" stroke-width="3"/>
<text class="lg" x="969" y="427">Findings inconsistent</text>
<text class="lg" x="969" y="442">with state of downstream</text>
<text class="lg" x="969" y="456">molecule</text>
<line x1="935" y1="469" x2="963" y2="469" stroke="#666" stroke-width="3"/>
<text class="lg" x="969" y="473">Effect not predicted</text>
</g>

<g id="legend-low" transform="translate(6 658)">
<rect x="918" y="177" width="200" height="301" fill="#fff" stroke="#999"/>
<rect x="963" y="170" width="110" height="14" fill="#fff"/>
<text class="lgb" x="1018" y="182">Prediction Legend</text>
<text class="lgs" x="922" y="195">more extreme in dataset</text>
<text class="lgs" x="1092" y="195">less</text>
<ellipse cx="937" cy="208" rx="10" ry="6.5" fill="#ec2a2f" stroke="#a83"/>
<text class="lg" x="957" y="212">Increased measurement</text>
<ellipse cx="1103" cy="208" rx="10" ry="6.5" fill="#f7b8be" stroke="#c99"/>
<ellipse cx="937" cy="228" rx="10" ry="6.5" fill="#27d42c" stroke="#393"/>
<text class="lg" x="954" y="232">Decreased measurement</text>
<ellipse cx="1103" cy="228" rx="10" ry="6.5" fill="#bdf0ba" stroke="#9c9"/>
<text class="lgs" x="922" y="259">more confidence</text>
<text class="lgs" x="1090" y="259">less</text>
<ellipse cx="937" cy="272" rx="10" ry="6.5" fill="#e0711c" stroke="#a55"/>
<text class="lg" x="966" y="276">Predicted activation</text>
<ellipse cx="1103" cy="272" rx="10" ry="6.5" fill="#f8cca8" stroke="#c98"/>
<ellipse cx="937" cy="290" rx="10" ry="6.5" fill="#1765e0" stroke="#246"/>
<text class="lg" x="968" y="294">Predicted inhibition</text>
<ellipse cx="1103" cy="290" rx="10" ry="6.5" fill="#bcd1f3" stroke="#89a"/>
<text class="lg" x="922" y="327">Glow Indicates activity</text>
<text class="lg" x="922" y="344">when opposite</text>
<text class="lg" x="922" y="361">of measurement</text>
<rect x="1049" y="318" width="26" height="15" rx="7" fill="#ee1d1d" stroke="#7eaaf0" stroke-width="2.5"/>
<rect x="1049" y="343" width="26" height="15" rx="7" fill="#22dd22" stroke="#f2aa60" stroke-width="2.5"/>
<text class="lg" x="958" y="385">Predicted Relationships</text>
<line x1="935" y1="395" x2="963" y2="395" stroke="#e06a10" stroke-width="3"/>
<text class="lg" x="969" y="399">Leads to activation</text>
<line x1="935" y1="409" x2="963" y2="409" stroke="#1a5fd0" stroke-width="3"/>
<text class="lg" x="969" y="413">Leads to inhibition</text>
<line x1="935" y1="423" x2="963" y2="423" stroke="#e8c820" stroke-width="3"/>
<text class="lg" x="969" y="427">Findings inconsistent</text>
<text class="lg" x="969" y="442">with state of downstream</text>
<text class="lg" x="969" y="456">molecule</text>
<line x1="935" y1="469" x2="963" y2="469" stroke="#666" stroke-width="3"/>
<text class="lg" x="969" y="473">Effect not predicted</text>
</g>
</svg>
